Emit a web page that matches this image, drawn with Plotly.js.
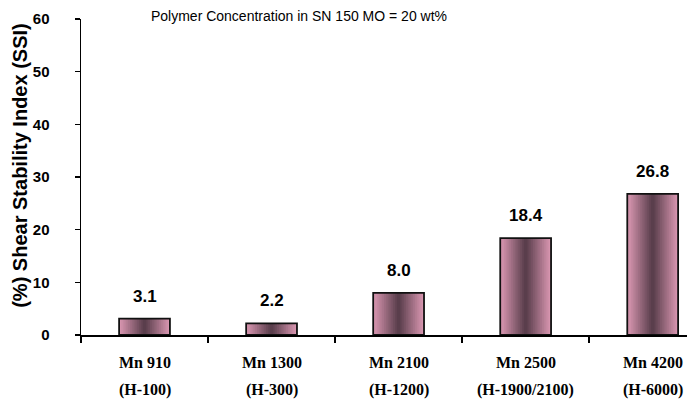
<!DOCTYPE html>
<html>
<head>
<meta charset="utf-8">
<script src="https://cdn.plot.ly/plotly-3.0.1.min.js"></script>
<style>html,body{margin:0;padding:0;background:#fff;overflow:hidden;}</style>
</head>
<body>
<div id="chart" style="width:687px;height:400px;"></div>
<script>
// ---- data ----
const categories = ["Mn 910", "Mn 1300", "Mn 2100", "Mn 2500", "Mn 4200"];
const gradeLabels = ["(H-100)", "(H-300)", "(H-1200)", "(H-1900/2100)", "(H-6000)"];
const ssiValues = [3.1, 2.2, 8.0, 18.4, 26.8];
const yTickValues = [0, 10, 20, 30, 40, 50, 60];
const titleText = "Polymer Concentration in SN 150 MO = 20 wt%";
const yTitleText = "(%) Shear Stability Index (SSI)";

// ---- styling ----
const barWidth = 0.4;
const edgeColor = [216, 150, 176];
const centerColor = [90, 62, 76];
const layers = 14;

function mix(a, b, t) {
  return "rgb(" + a.map((v, i) => Math.round(v + (b[i] - v) * t)).join(",") + ")";
}

const traces = [];
for (let i = 0; i < layers; i++) {
  const t = i / (layers - 1);
  traces.push({
    type: "bar",
    x: categories,
    y: ssiValues,
    width: barWidth * (1 - i / layers),
    marker: { color: mix(edgeColor, centerColor, t), line: { width: 0 } },
    hoverinfo: "skip",
    showlegend: false
  });
}
// outline
traces.push({
  type: "bar",
  x: categories,
  y: ssiValues,
  width: barWidth,
  marker: { color: "rgba(0,0,0,0)", line: { color: "#111", width: 1.8 } },
  hoverinfo: "skip",
  showlegend: false
});

const sans = "Liberation Sans, Arial, sans-serif";
const serif = "Liberation Serif, Times New Roman, serif";

const annotations = [];
categories.forEach((c, i) => {
  annotations.push({
    x: c, y: ssiValues[i], xref: "x", yref: "y",
    text: ssiValues[i].toFixed(1), showarrow: false,
    yanchor: "bottom", yshift: 11,
    font: { family: sans, size: 17, weight: "bold", color: "#000" }
  });
  annotations.push({
    x: c, y: 0, xref: "x", yref: "paper",
    text: c, showarrow: false, yanchor: "middle", yshift: -27,
    font: { family: serif, size: 16, weight: "bold", color: "#000" }
  });
  annotations.push({
    x: c, y: 0, xref: "x", yref: "paper",
    text: gradeLabels[i], showarrow: false, yanchor: "middle", yshift: -55,
    font: { family: serif, size: 16, weight: "bold", color: "#000" }
  });
});
annotations.push({
  xref: "paper", yref: "paper", x: -0.101, y: 0.538,
  xanchor: "center", yanchor: "middle", textangle: -90,
  text: yTitleText, showarrow: false,
  font: { family: sans, size: 20, weight: "bold", color: "#000" }
});

const layout = {
  width: 687, height: 400,
  margin: { l: 81, r: 0, t: 19, b: 65, pad: 0 },
  paper_bgcolor: "#fff", plot_bgcolor: "#fff",
  barmode: "overlay",
  title: {
    text: titleText, xref: "container", yref: "container",
    x: 299 / 687, y: 1 - 16 / 400, xanchor: "center", yanchor: "middle",
    font: { family: sans, size: 14, color: "#000" }
  },
  xaxis: {
    type: "category", range: [-0.5, 4.27],
    showline: true, linecolor: "#000", linewidth: 1.5,
    ticks: "outside", tickson: "boundaries", ticklen: 6, tickcolor: "#000", tickwidth: 1.5,
    showticklabels: false, showgrid: false, zeroline: false, fixedrange: true
  },
  yaxis: {
    range: [0, 60], tickvals: yTickValues,
    showline: true, linecolor: "#000", linewidth: 1.5,
    ticks: "outside", ticklen: 5, tickcolor: "#000", tickwidth: 1.5,
    ticklabelstandoff: 22,
    tickfont: { family: sans, size: 15, weight: "bold", color: "#000" },
    showgrid: false, zeroline: false, fixedrange: true
  },
  annotations: annotations
};

Plotly.newPlot("chart", traces, layout, { staticPlot: true, displayModeBar: false });
</script>
</body>
</html>
